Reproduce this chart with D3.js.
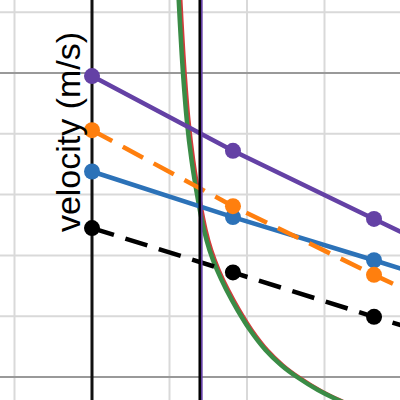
<!DOCTYPE html>
<html><head><meta charset="utf-8">
<script src="https://cdn.jsdelivr.net/npm/d3@7"></script>
<style>html,body{margin:0;padding:0;background:#fff;}svg{display:block;}</style>
</head><body>
<script>
// ---- data ----
const xGridTicks = [-1, 0, 1, 2, 3];
const yGridTicks = [0, 1, 2, 3, 4, 5, 6];
const yMajorTicks = [0, 5];
const pointTimes = [0, 1.819, 3.639, 5.46];
const purpleVals = [4.95, 3.72, 2.60, 1.47];
const orangeVals = [4.06, 2.81, 1.68, 0.58];
const blueVals   = [3.38, 2.63, 1.92, 1.20];
const blackVals  = [2.45, 1.72, 0.99, 0.27];
const curveX = [1.103, 1.119, 1.147, 1.174, 1.223, 1.284, 1.368, 1.445, 1.516, 1.613, 1.735, 1.877, 2.039, 2.239, 2.439, 2.645, 2.916, 3.174, 3.484];
const curveY = [6.69, 6.201, 5.543, 5.0, 4.227, 3.569, 2.911, 2.418, 2.089, 1.760, 1.431, 1.102, 0.773, 0.444, 0.197, 0.0, -0.214, -0.378, -0.543];
const redShift = 0.03;
const vLineBlack = 1.39;
const vLinePurple = 1.415;
const yLabel = "velocity (m/s)";

// ---- scales ----
const W = 400, H = 400;
const x = d3.scaleLinear().domain([-92/77.5, (400-92)/77.5]).range([0, W]);
const y = d3.scaleLinear().domain([377/60.8, (377-400)/60.8]).range([0, H]);

const svg = d3.select("body").append("svg").attr("width", W).attr("height", H);
svg.append("defs").append("clipPath").attr("id","clip")
  .append("rect").attr("x",0).attr("y",0).attr("width",W).attr("height",H);
const g = svg.append("g").attr("clip-path","url(#clip)");

// grid
g.selectAll(".vg").data(xGridTicks).join("line")
  .attr("x1", d=>x(d)).attr("x2", d=>x(d)).attr("y1",0).attr("y2",H)
  .attr("stroke","#d9d9d9").attr("stroke-width",2);
g.selectAll(".hg").data(yGridTicks).join("line")
  .attr("x1",0).attr("x2",W).attr("y1",d=>y(d)).attr("y2",d=>y(d))
  .attr("stroke", d=> yMajorTicks.includes(d) ? "#999" : "#d9d9d9").attr("stroke-width",2);

// axis line at x=0
g.append("line").attr("x1",x(0)).attr("x2",x(0)).attr("y1",0).attr("y2",H)
  .attr("stroke","#111").attr("stroke-width",3);

// curves
const curveLine = d3.line().x(d=>x(d[0])).y(d=>y(d[1])).curve(d3.curveCatmullRom.alpha(0.5));
const greenData = curveX.map((v,i)=>[v, curveY[i]]);
const redData = curveX.map((v,i)=>[v+redShift, curveY[i]]);
g.append("path").attr("d", curveLine(redData)).attr("fill","none")
  .attr("stroke","#d33b3b").attr("stroke-width",3);
g.append("path").attr("d", curveLine(greenData)).attr("fill","none")
  .attr("stroke","#3a8c46").attr("stroke-width",4.5);

// series
const series = [
  {vals: blackVals, color:"#000", dash:"23,12"},
  {vals: blueVals, color:"#2c72b8", dash:null},
  {vals: orangeVals, color:"#ff7f0e", dash:"23,12"},
  {vals: purpleVals, color:"#6441a5", dash:null}
];
const lineGen = d3.line().x(d=>x(d[0])).y(d=>y(d[1]));
series.forEach(s=>{
  const pts = pointTimes.map((t,i)=>[t, s.vals[i]]);
  g.append("path").attr("d", lineGen(pts)).attr("fill","none")
    .attr("stroke", s.color).attr("stroke-width",4.5)
    .attr("stroke-dasharray", s.dash);
  g.selectAll(null).data(pts).join("circle")
    .attr("cx", d=>x(d[0])).attr("cy", d=>y(d[1])).attr("r",8)
    .attr("fill", s.color);
});

// vertical lines
g.append("line").attr("x1",x(vLinePurple)).attr("x2",x(vLinePurple)).attr("y1",0).attr("y2",H)
  .attr("stroke","#6441a5").attr("stroke-width",2);
g.append("line").attr("x1",x(vLineBlack)).attr("x2",x(vLineBlack)).attr("y1",0).attr("y2",H)
  .attr("stroke","#000").attr("stroke-width",2.5);

// label
svg.append("text").attr("transform","translate(80,132) rotate(-90)")
  .attr("text-anchor","middle")
  .attr("font-family","'Liberation Sans', Arial, sans-serif")
  .attr("font-size",34).attr("fill","#000").text(yLabel);
</script>
</body></html>
